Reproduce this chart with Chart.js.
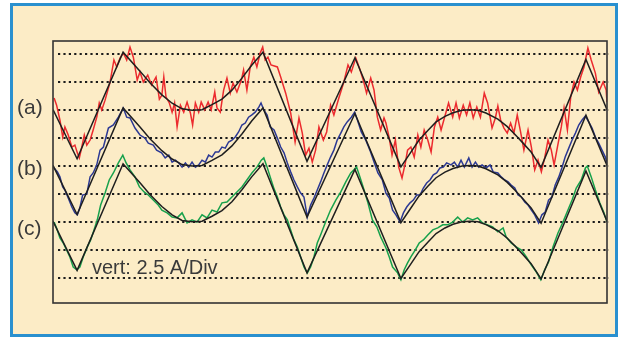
<!DOCTYPE html>
<html>
<head>
<meta charset="utf-8">
<script src="https://cdn.jsdelivr.net/npm/chart.js@4.4.1/dist/chart.umd.min.js"></script>
<style>
  html, body { margin: 0; padding: 0; background: #ffffff; }
  #wrap { position: relative; width: 620px; height: 337px; }
</style>
</head>
<body>
<div id="wrap"><canvas id="scope" width="620" height="337"></canvas></div>
<script>
// Phase currents (a), (b), (c): measured trace and reference waveform.
// Time in ms, amplitude in screen divisions (2.5 A/Div), each trace on its own offset.

const traceLabels = ['(a)', '(b)', '(c)'];
const scaleNote = 'vert: 2.5 A/Div';
const gridLevels = [0, 1, 2, 3, 4, 5, 6, 7, 8];

// reference waveform (smooth black curve), shared time base
const refTime = [0, 0.87, 2.53, 3.14, 3.50, 3.93, 4.30, 4.66, 5.02, 5.38, 5.74, 6.10, 6.46, 6.82, 7.18, 7.58, 9.17, 10.90, 12.56, 12.89, 13.21, 13.54, 13.83, 14.15, 14.44, 14.77, 15.05, 15.34, 15.63, 16.06, 16.39, 16.68, 16.97, 17.26, 17.62, 19.24, 20.0];
const refA = [6.02, 4.26, 8.08, 7.40, 6.98, 6.55, 6.25, 6.05, 6.00, 6.02, 6.20, 6.40, 6.72, 7.15, 7.62, 8.08, 4.17, 7.88, 3.97, 4.45, 4.92, 5.28, 5.58, 5.78, 5.91, 6.00, 6.02, 6.00, 5.90, 5.68, 5.42, 5.13, 4.82, 4.50, 3.95, 7.82, 6.02];
const refB = [4.02, 2.26, 6.08, 5.40, 4.98, 4.55, 4.25, 4.05, 4.00, 4.02, 4.20, 4.40, 4.72, 5.15, 5.62, 6.08, 2.17, 5.88, 1.97, 2.45, 2.92, 3.28, 3.58, 3.78, 3.91, 4.00, 4.02, 4.00, 3.90, 3.68, 3.42, 3.13, 2.82, 2.50, 1.95, 5.82, 4.02];
const refC = [2.02, 0.26, 4.08, 3.40, 2.98, 2.55, 2.25, 2.05, 2.00, 2.02, 2.20, 2.40, 2.72, 3.15, 3.62, 4.08, 0.17, 3.88, -0.03, 0.45, 0.92, 1.28, 1.58, 1.78, 1.91, 2.00, 2.02, 2.00, 1.90, 1.68, 1.42, 1.13, 0.82, 0.50, -0.05, 3.82, 2.02];

// measured trace (a)
const timeA = [0.04,0.13,0.25,0.35,0.43,0.55,0.68,0.79,0.88,0.95,1.04,1.13,1.22,1.34,1.45,1.58,1.67,1.76,1.88,2.06,2.20,2.30,2.42,2.54,2.66,2.78,2.90,3.04,3.14,3.26,3.42,3.56,3.72,3.84,3.93,4.00,4.08,4.20,4.30,4.39,4.48,4.60,4.72,4.84,4.96,5.04,5.14,5.26,5.35,5.48,5.60,5.71,5.84,5.92,6.04,6.16,6.28,6.40,6.50,6.64,6.80,6.88,7.00,7.12,7.25,7.36,7.48,7.57,7.66,7.76,7.87,8.10,8.22,8.40,8.58,8.74,8.88,9.00,9.12,9.24,9.36,9.48,9.60,9.76,9.88,10.02,10.14,10.32,10.50,10.65,10.77,10.93,11.05,11.20,11.32,11.47,11.59,11.71,11.83,11.95,12.02,12.14,12.24,12.36,12.48,12.60,12.72,12.80,12.92,13.04,13.17,13.28,13.40,13.53,13.65,13.77,13.89,14.01,14.13,14.28,14.43,14.55,14.67,14.81,14.93,15.05,15.17,15.30,15.43,15.57,15.69,15.85,15.97,16.06,16.16,16.28,16.40,16.52,16.64,16.76,16.88,17.00,17.15,17.27,17.39,17.51,17.63,17.75,17.87,17.99,18.09,18.21,18.35,18.45,18.57,18.69,18.81,18.93,19.05,19.17,19.31,19.43,19.58,19.70,19.86,19.97,20.00];
const valueA = [6.44,6.18,5.65,5.04,5.40,5.11,4.68,4.75,4.47,4.29,4.68,5.11,4.75,4.93,5.29,5.75,6.26,6.01,6.36,7.01,7.80,7.55,7.87,8.05,7.80,8.26,7.90,7.08,7.37,7.01,7.26,6.90,7.19,6.40,6.54,7.19,6.47,6.26,5.93,6.26,5.40,6.18,5.93,6.29,5.90,5.47,6.26,5.93,6.29,6.01,6.29,6.01,6.65,6.08,5.93,6.72,7.15,6.61,6.97,6.65,7.08,7.44,6.72,7.55,7.90,7.55,8.05,8.26,7.80,7.90,7.62,7.55,7.19,6.61,5.90,4.86,5.72,5.18,4.39,4.64,4.14,4.57,5.40,4.93,5.22,6.18,5.83,6.44,7.01,7.62,7.37,7.87,7.55,7.08,6.61,7.15,6.72,5.75,5.29,5.72,5.54,5.00,4.39,4.93,3.96,3.57,4.11,4.57,4.68,4.32,5.11,4.68,5.29,4.93,4.50,5.40,5.75,5.29,5.72,6.26,5.75,6.26,5.72,6.18,5.83,6.26,5.72,6.11,5.75,6.61,6.26,5.36,5.72,6.15,5.65,5.36,5.18,5.54,5.18,5.83,5.22,4.57,5.29,4.68,3.86,4.21,3.79,4.29,4.93,4.57,4.04,4.68,5.40,6.08,5.29,6.47,7.01,6.72,7.19,7.55,8.23,7.80,7.33,6.65,7.01,6.72,6.29];

// measured trace (b)
const timeB = [0.04,0.16,0.25,0.35,0.43,0.55,0.68,0.79,0.88,0.97,1.07,1.22,1.34,1.45,1.58,1.70,1.82,2.00,2.18,2.36,2.54,2.66,2.78,2.96,3.14,3.32,3.44,3.62,3.74,3.92,4.05,4.18,4.30,4.42,4.54,4.66,4.78,4.90,5.02,5.14,5.26,5.38,5.50,5.62,5.74,5.86,5.98,6.10,6.22,6.34,6.46,6.58,6.70,6.82,6.94,7.06,7.18,7.30,7.43,7.51,7.61,7.73,7.84,7.98,8.10,8.22,8.34,8.46,8.58,8.70,8.82,8.94,9.06,9.18,9.30,9.42,9.54,9.66,9.78,9.90,10.02,10.14,10.26,10.39,10.50,10.62,10.77,10.89,10.99,11.13,11.29,11.44,11.59,11.73,11.89,12.02,12.14,12.26,12.38,12.53,12.65,12.77,12.89,13.01,13.13,13.25,13.37,13.49,13.61,13.73,13.85,13.97,14.09,14.21,14.37,14.49,14.61,14.73,14.85,15.01,15.13,15.25,15.37,15.49,15.63,15.78,15.89,16.06,16.18,16.31,16.43,16.54,16.67,16.79,16.91,17.03,17.15,17.27,17.39,17.53,17.65,17.77,17.89,18.01,18.13,18.26,18.37,18.49,18.62,18.74,18.86,18.98,19.10,19.22,19.34,19.46,19.58,19.70,19.82,19.94,20.00];
const valueB = [3.93,3.79,3.61,3.25,3.14,2.85,2.53,2.32,2.25,2.50,2.96,3.00,3.61,3.75,4.04,4.57,4.68,5.36,5.47,5.75,6.08,5.75,5.72,5.36,5.11,5.00,4.82,4.75,4.57,4.47,4.29,4.39,4.14,4.21,4.11,3.96,4.11,3.96,4.14,3.96,4.04,4.21,4.14,4.39,4.32,4.50,4.50,4.68,4.64,4.86,4.93,5.04,5.22,5.47,5.54,5.75,5.83,5.93,6.11,6.26,6.01,5.83,5.40,5.29,5.00,4.68,4.47,4.11,3.79,3.50,3.25,3.03,2.89,2.17,2.60,2.85,3.14,3.43,3.75,4.04,4.32,4.57,4.93,5.18,5.40,5.58,5.75,5.93,5.65,5.22,4.93,4.57,4.14,3.75,3.50,3.03,2.85,2.42,2.25,1.99,2.32,2.53,2.68,2.78,2.96,2.96,3.21,3.39,3.50,3.68,3.75,3.93,3.96,4.11,4.04,4.14,3.96,4.21,3.96,4.29,3.96,4.14,3.96,4.04,3.93,4.04,3.79,3.75,3.61,3.50,3.43,3.32,3.21,2.96,2.89,2.71,2.60,2.42,2.25,1.96,2.25,2.35,2.78,2.89,3.32,3.61,3.93,4.32,4.64,4.93,5.18,5.47,5.65,5.79,5.58,5.36,5.04,4.82,4.57,4.32,4.11];

// measured trace (c)
const timeC = [0.04,0.13,0.25,0.37,0.49,0.61,0.73,0.86,0.97,1.09,1.24,1.36,1.48,1.60,1.72,1.88,2.03,2.18,2.36,2.52,2.64,2.78,2.96,3.12,3.29,3.44,3.62,3.80,3.93,4.12,4.30,4.48,4.66,4.84,5.02,5.20,5.38,5.56,5.74,5.92,6.10,6.28,6.46,6.64,6.82,7.00,7.18,7.36,7.52,7.61,7.73,7.84,7.98,8.10,8.22,8.34,8.46,8.58,8.70,8.82,8.94,9.06,9.18,9.30,9.42,9.54,9.66,9.84,10.02,10.21,10.39,10.57,10.75,10.96,11.08,11.23,11.37,11.53,11.69,11.83,12.02,12.14,12.26,12.44,12.56,12.68,12.80,12.92,13.08,13.22,13.37,13.53,13.71,13.89,14.07,14.25,14.43,14.61,14.79,14.97,15.15,15.33,15.51,15.69,15.87,16.06,16.25,16.36,16.54,16.72,16.91,17.09,17.27,17.45,17.61,17.75,17.89,18.05,18.23,18.41,18.59,18.74,18.89,19.07,19.22,19.29,19.43,19.58,19.74,19.89,20.00];
const valueC = [1.99,1.78,1.42,1.24,0.99,0.74,0.38,0.28,0.38,0.74,1.10,1.35,1.71,2.07,2.60,3.03,3.50,3.75,4.11,4.39,4.11,3.86,3.61,3.25,3.07,2.96,2.78,2.60,2.42,2.32,2.17,2.14,2.32,1.96,2.07,1.99,2.25,2.14,2.42,2.35,2.68,2.71,2.89,3.07,3.25,3.50,3.75,3.96,4.21,4.29,3.96,3.61,3.18,2.89,2.53,2.25,2.07,1.71,1.35,1.10,0.74,0.38,0.17,0.38,0.74,1.24,1.53,1.99,2.42,2.78,3.07,3.43,3.75,3.96,3.61,3.14,2.68,2.07,1.82,1.46,1.06,0.74,0.38,0.17,-0.08,0.28,0.53,0.74,0.99,1.24,1.35,1.53,1.71,1.78,1.89,1.89,1.99,2.17,1.99,2.14,2.07,2.14,1.96,1.89,1.82,1.64,1.78,1.46,1.24,1.10,0.99,0.74,0.45,0.20,-0.08,0.28,0.56,1.10,1.60,1.99,2.42,2.78,3.21,3.50,3.93,4.00,3.61,3.14,2.68,2.32,1.99];

const toPoints = (xs, ys) => xs.map((x, i) => ({ x: x, y: ys[i] }));

const COLORS = {
  a: '#ec2a2e',
  b: '#2c3994',
  c: '#17a14c',
  ref: '#1e1e1e',
  panel: '#fcecc6',
  frame: '#2a90cf',
  box: '#333333',
  grid: '#1c1c1c',
  text: '#3a3a3a'
};

const decorPlugin = {
  id: 'scopeDecor',
  beforeDraw(chart) {
    const ctx = chart.ctx;
    ctx.save();
    ctx.fillStyle = '#ffffff';
    ctx.fillRect(0, 0, chart.width, chart.height);
    ctx.fillStyle = COLORS.panel;
    ctx.fillRect(10, 3, 608, 334);
    ctx.strokeStyle = COLORS.frame;
    ctx.lineWidth = 3;
    ctx.strokeRect(11.5, 4.5, 605, 331);
    ctx.restore();
  },
  beforeDatasetsDraw(chart) {
    const ctx = chart.ctx;
    const area = chart.chartArea;
    const y = chart.scales.y;
    ctx.save();
    ctx.strokeStyle = COLORS.grid;
    ctx.lineWidth = 2;
    ctx.setLineDash([2.2, 3.2]);
    gridLevels.forEach(v => {
      const py = Math.round(y.getPixelForValue(v));
      ctx.beginPath();
      ctx.moveTo(area.left + 5, py);
      ctx.lineTo(area.right + 2, py);
      ctx.stroke();
    });
    ctx.restore();
  },
  afterDatasetsDraw(chart) {
    const ctx = chart.ctx;
    const area = chart.chartArea;
    ctx.save();
    ctx.strokeStyle = COLORS.box;
    ctx.lineWidth = 1.6;
    ctx.strokeRect(area.left, area.top, area.right - area.left, area.bottom - area.top);
    ctx.restore();
  },
  afterDraw(chart) {
    const ctx = chart.ctx;
    ctx.save();
    ctx.fillStyle = COLORS.text;
    ctx.textAlign = 'left';
    ctx.textBaseline = 'alphabetic';
    ctx.font = "21px 'Liberation Sans', Arial, sans-serif";
    const baselines = [114, 175, 235];
    traceLabels.forEach((t, i) => ctx.fillText(t, 17, baselines[i]));
    ctx.font = "20px 'Liberation Sans', Arial, sans-serif";
    ctx.fillText(scaleNote, 92, 274);
    ctx.restore();
  }
};

const lineSet = (label, pts, color, width, order) => ({
  label: label,
  data: pts,
  borderColor: color,
  borderWidth: width,
  pointRadius: 0,
  tension: 0,
  fill: false,
  order: order
});

new Chart(document.getElementById('scope'), {
  type: 'line',
  data: {
    datasets: [
      lineSet('(a) reference', toPoints(refTime, refA), COLORS.ref, 1.5, 0),
      lineSet('(b) reference', toPoints(refTime, refB), COLORS.ref, 1.5, 0),
      lineSet('(c) reference', toPoints(refTime, refC), COLORS.ref, 1.5, 0),
      lineSet('(a) measured', toPoints(timeA, valueA), COLORS.a, 1.5, 1),
      lineSet('(b) measured', toPoints(timeB, valueB), COLORS.b, 1.5, 1),
      lineSet('(c) measured', toPoints(timeC, valueC), COLORS.c, 1.5, 1)
    ]
  },
  options: {
    responsive: false,
    animation: false,
    devicePixelRatio: 1,
    layout: { padding: { left: 53, right: 13, top: 41, bottom: 34 } },
    plugins: { legend: { display: false }, tooltip: { enabled: false } },
    scales: {
      x: { type: 'linear', min: 0, max: 20, display: false },
      y: { type: 'linear', min: -0.91, max: 8.48, display: false }
    }
  },
  plugins: [decorPlugin]
});
</script>
</body>
</html>
